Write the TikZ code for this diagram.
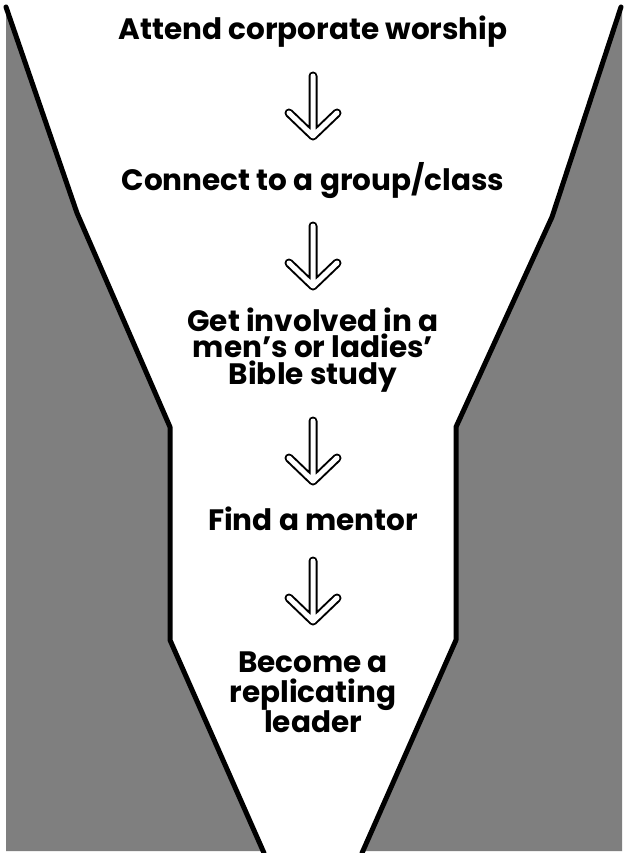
\documentclass[tikz,border=0pt]{standalone}
\usepackage{fontspec}
\setmainfont{Poppins}
\definecolor{sidegray}{HTML}{7F7F7F}
\tikzset{
  funnelline/.style={line width=5pt, line join=round, line cap=round, black},
  sidefill/.style={fill=sidegray},
  label/.style={anchor=base, inner sep=0pt, align=center, font=\bfseries\fontsize{29.5}{30}\selectfont},
  arrowout/.style={line width=9pt, line cap=round, line join=round, black},
  arrowin/.style={line width=5pt, line cap=round, line join=round, white},
}
\newcommand\dnarrow[2]{%
  \coordinate (#1top) at (313,#2);
  \coordinate (#1tip) at (313,#2+60);
  \coordinate (#1l) at (289,#2+37);
  \coordinate (#1r) at (337,#2+37);
  \draw[arrowout] (#1top) -- (#1tip) (#1l) -- (#1tip) -- (#1r);
  \draw[arrowin] (#1top) -- (#1tip) (#1l) -- (#1tip) -- (#1r);
}
\begin{document}
\begin{tikzpicture}[x=1pt,y=-1pt]
\useasboundingbox (0,0) rectangle (624,853);
\fill[white] (0,0) rectangle (624,853);
% gray sides
\fill[sidefill] (6,7) -- (77,213) -- (170,427) -- (170,640) -- (264,851) -- (6,851) -- cycle;
\fill[sidefill] (621,7) -- (552,217) -- (456,427) -- (456,640) -- (362,851) -- (622,851) -- (622,7) -- cycle;
% funnel borders
\draw[funnelline] (6,7) -- (77,213) -- (170,427) -- (170,640) -- (264,853);
\draw[funnelline] (621,7) -- (552,217) -- (456,427) -- (456,640) -- (362,853);
% texts
\node[label] (t1) at (313,40) {Attend corporate worship};
\node[label] (t2) at (313,190) {Connect to a group/class};
\node[label, font=\bfseries\fontsize{29.5}{26.5}\selectfont] (t3) at (313,384) {Get involved in a\\men’s or ladies’\\Bible study};
\node[label] (t4) at (313,530) {Find a mentor};
\node[label] (t5) at (313,732) {Become a\\replicating\\leader};
% arrows
\dnarrow{a1}{76}
\dnarrow{a2}{226}
\dnarrow{a3}{421}
\dnarrow{a4}{561}
\end{tikzpicture}
\end{document}
